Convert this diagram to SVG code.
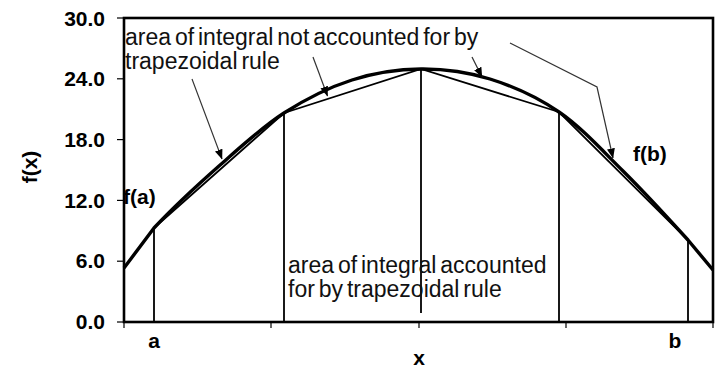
<svg xmlns="http://www.w3.org/2000/svg" width="719" height="369" viewBox="0 0 719 369">
<defs>
<marker id="ah" viewBox="0 0 10 8" refX="9.5" refY="4" markerWidth="10" markerHeight="8" markerUnits="userSpaceOnUse" orient="auto">
<path d="M0,0 L10,4 L0,8 z" fill="#000"/>
</marker>
<style>
.tick{font-family:"Liberation Sans",Arial,sans-serif;font-weight:bold;font-size:21px;fill:#000}
.lbl{font-family:"Liberation Sans",Arial,sans-serif;font-size:23px;word-spacing:-2.5px;fill:#111}
.ax{stroke:#000;stroke-width:2.6;fill:none}
.tm{stroke:#000;stroke-width:1.2}
.thin{stroke:#000;stroke-width:1.8;fill:none}
.curve{stroke:#000;stroke-width:3.4;fill:none;stroke-linejoin:round}
.arr{stroke:#333;stroke-width:1.2;fill:none;marker-end:url(#ah)}
</style>
</defs>
<rect width="719" height="369" fill="#fff"/>
<g id="axes">
<rect x="124" y="18" width="589" height="304" class="ax"/>
<g class="tm">
<line x1="117" y1="18" x2="124" y2="18"/>
<line x1="117" y1="78.8" x2="124" y2="78.8"/>
<line x1="117" y1="139.6" x2="124" y2="139.6"/>
<line x1="117" y1="200.4" x2="124" y2="200.4"/>
<line x1="117" y1="261.2" x2="124" y2="261.2"/>
<line x1="117" y1="322" x2="124" y2="322"/>
<line x1="124" y1="322" x2="124" y2="328"/>
<line x1="271" y1="322" x2="271" y2="328"/>
<line x1="419" y1="322" x2="419" y2="328"/>
<line x1="566" y1="322" x2="566" y2="328"/>
<line x1="713" y1="322" x2="713" y2="328"/>
</g>
<g class="tick" text-anchor="end">
<text x="105" y="26">30.0</text>
<text x="105" y="86">24.0</text>
<text x="105" y="147">18.0</text>
<text x="105" y="208">12.0</text>
<text x="105" y="268">6.0</text>
<text x="105" y="329">0.0</text>
</g>
<text class="tick" x="0" y="0" text-anchor="middle" transform="translate(37,167) rotate(-90)">f(x)</text>
<text class="tick" x="154" y="348" text-anchor="middle">a</text>
<text class="tick" x="675" y="348" text-anchor="middle">b</text>
<text class="tick" x="419" y="365" text-anchor="middle">x</text>
</g>
<g id="trapezoids">
<polyline class="thin" points="154,322 154,228 284,113 421,69 559,112 688,240 688,322"/>
<line class="thin" x1="284" y1="113" x2="284" y2="322"/>
<line class="thin" x1="421" y1="69" x2="421" y2="313"/>
<line class="thin" x1="559" y1="112" x2="559" y2="322"/>
</g>
<g id="curve">
<path class="curve" d="M124,268 L154,228 C169.8,211 197.3,185.2 219,166 C240.7,146.8 261.8,127.3 284,113 C306.2,98.7 329.2,87.3 352,80 C374.8,72.7 398,69.2 421,69 C444,68.8 467,71.8 490,79 C513,86.2 536.8,96.7 559,112 C581.2,127.3 601.5,149.7 623,171 C644.5,192.3 673,223.5 688,240 L713,270"/>
</g>
<g id="labels">
<text class="lbl" x="125" y="45">area of integral not accounted for by</text>
<text class="lbl" x="125" y="69">trapezoidal rule</text>
<text class="lbl" x="288" y="273">area of integral accounted</text>
<text class="lbl" x="288" y="297">for by trapezoidal rule</text>
<text class="tick" x="123" y="204">f(a)</text>
<text class="tick" x="633" y="161">f(b)</text>
</g>
<g id="connectors">
<line class="arr" x1="192" y1="79" x2="222" y2="159"/>
<line class="arr" x1="313" y1="57" x2="327.5" y2="96"/>
<line class="arr" x1="472" y1="57" x2="482" y2="77"/>
<polyline class="arr" points="510,43 597,87 613,158"/>
</g>
</svg>
